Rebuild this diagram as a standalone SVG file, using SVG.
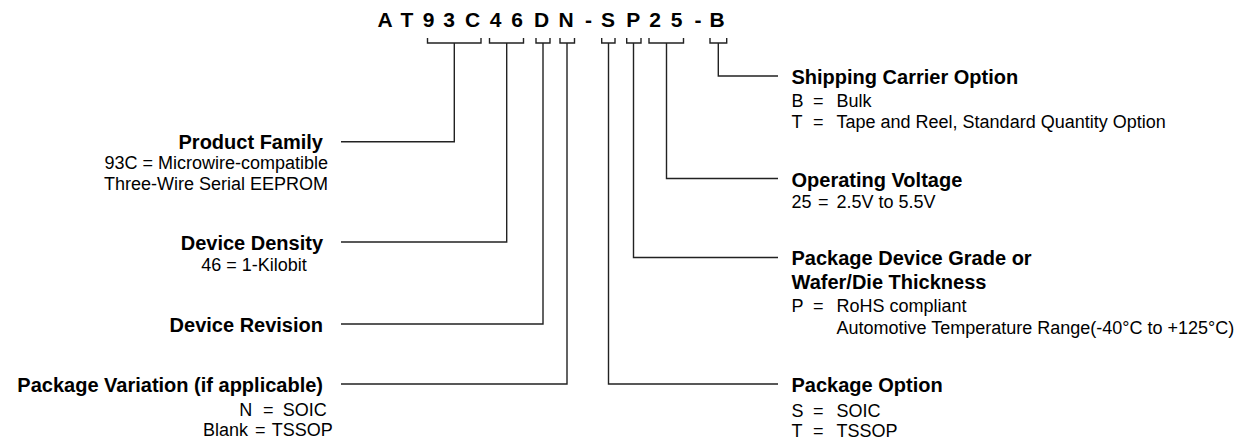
<svg xmlns="http://www.w3.org/2000/svg" width="1246" height="441" viewBox="0 0 1246 441">
<style>
text{font-family:"Liberation Sans",Arial,sans-serif;fill:#000}
.code{font-size:21px;font-weight:bold;text-anchor:middle}
.h{font-size:20px;font-weight:bold}
.b{font-size:18px}
.r{text-anchor:end}
.ln{fill:none;stroke:#222;stroke-width:1.4}
</style>
<rect width="1246" height="441" fill="#fff"/>
<g id="code">
<text class="code" y="27"><tspan x="385">A</tspan><tspan x="407">T</tspan><tspan x="428.5">9</tspan><tspan x="449">3</tspan><tspan x="472.5">C</tspan><tspan x="495.5">4</tspan><tspan x="517">6</tspan><tspan x="541.5">D</tspan><tspan x="566">N</tspan><tspan x="588.5">-</tspan><tspan x="608">S</tspan><tspan x="633.3">P</tspan><tspan x="655">2</tspan><tspan x="676.5">5</tspan><tspan x="698">-</tspan><tspan x="717">B</tspan></text>
</g>
<g id="connectors" class="ln">
<path d="M427.5 38V43H481V38M454.3 43V141.7H341"/>
<path d="M489.5 38V43H523.5V38M506.7 43V242H341"/>
<path d="M536 38V43H550V38M543 43V324H341"/>
<path d="M560 38V43H574.5V38M567 43V384H341"/>
<path d="M601.7 38V43H615V38M608.5 43V384H778"/>
<path d="M626.7 38V43H641V38M633.5 43V257.5H778"/>
<path d="M649 38V43H683.5V38M666.5 43V178.5H778"/>
<path d="M710 38V43H726.7V38M718.3 43V76H778"/>
</g>
<g id="product-family">
<text class="h r" x="323" y="148.5">Product Family</text>
<text class="b r" x="328" y="169">93C = Microwire-compatible</text>
<text class="b r" x="328" y="190">Three-Wire Serial EEPROM</text>
</g>
<g id="device-density">
<text class="h r" x="323" y="249.5">Device Density</text>
<text class="b" x="254" y="271" text-anchor="middle">46 = 1-Kilobit</text>
</g>
<g id="device-revision">
<text class="h r" x="323" y="331.5">Device Revision</text>
</g>
<g id="package-variation">
<text class="h r" x="323" y="391.5">Package Variation (if applicable)</text>
<text class="b" y="416"><tspan x="239.3">N</tspan><tspan x="263">=</tspan><tspan x="282.7">SOIC</tspan></text>
<text class="b" y="436"><tspan x="203">Blank</tspan><tspan x="255">=</tspan><tspan x="271.7">TSSOP</tspan></text>
</g>
<g id="shipping-carrier">
<text class="h" x="791.5" y="84">Shipping Carrier Option</text>
<text class="b" y="106.5"><tspan x="791.5">B</tspan><tspan x="813">=</tspan><tspan x="836.5">Bulk</tspan></text>
<text class="b" y="128"><tspan x="791.5">T</tspan><tspan x="813">=</tspan><tspan x="836.5">Tape and Reel, Standard Quantity Option</tspan></text>
</g>
<g id="operating-voltage">
<text class="h" x="791.5" y="186.5">Operating Voltage</text>
<text class="b" y="208"><tspan x="791.5">25</tspan><tspan x="818">=</tspan><tspan x="836.5">2.5V to 5.5V</tspan></text>
</g>
<g id="package-device-grade">
<text class="h" x="791.5" y="265">Package Device Grade or</text>
<text class="h" x="791.5" y="289">Wafer/Die Thickness</text>
<text class="b" y="312"><tspan x="791.5">P</tspan><tspan x="813">=</tspan><tspan x="836.5">RoHS compliant</tspan></text>
<text class="b" x="836.5" y="334">Automotive Temperature Range(-40°C to +125°C)</text>
</g>
<g id="package-option">
<text class="h" x="791.5" y="391.5">Package Option</text>
<text class="b" y="416.5"><tspan x="791.5">S</tspan><tspan x="813">=</tspan><tspan x="836.5">SOIC</tspan></text>
<text class="b" y="437"><tspan x="791.5">T</tspan><tspan x="813">=</tspan><tspan x="836.5">TSSOP</tspan></text>
</g>
</svg>
